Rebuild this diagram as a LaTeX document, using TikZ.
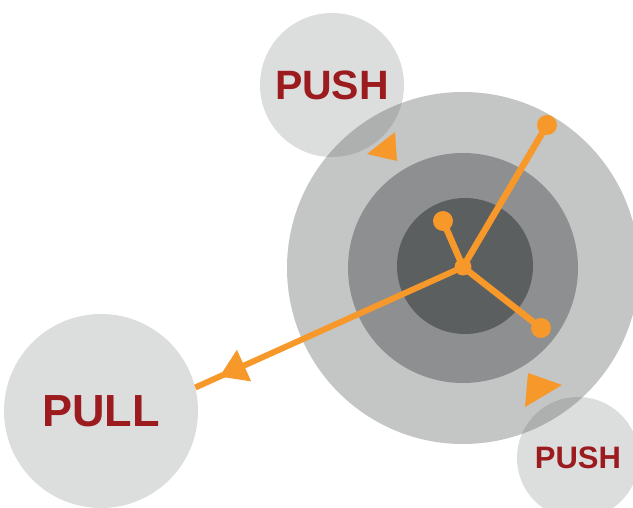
\documentclass[tikz,border=0pt]{standalone}
\usepackage{fontspec}
\setmainfont{Liberation Sans}
\usetikzlibrary{arrows.meta,decorations.markings}
\definecolor{pushRed}{HTML}{9B1B1F}
\definecolor{armOrange}{HTML}{F7982B}
\definecolor{ringOuter}{HTML}{C4C5C5}
\definecolor{ringMid}{HTML}{8E8F90}
\definecolor{ringCore}{HTML}{5B5F60}
\definecolor{veilGray}{HTML}{606464}

\begin{document}
\begin{tikzpicture}[x=1pt,y=-1pt,
  ring/.style={circle,inner sep=0pt,minimum size=#1,draw=none},
  bubble/.style={circle,inner sep=0pt,minimum size=#1,fill=veilGray,
    fill opacity=0.22,text opacity=1,text=pushRed},
  lettering/.style={font=\bfseries\fontsize{#1}{#1}\selectfont},
  arm/.style={line width=6.5pt,draw=armOrange},
  knob/.style={circle,fill=armOrange,inner sep=0pt,minimum size=#1},
]

\clip (0,0) rectangle (633,508);

% target rings
\node[ring=352pt,fill=ringOuter] (outer) at (463,268) {};
\node[ring=230pt,fill=ringMid] (middle) at (463,268) {};
\node[ring=136pt,fill=ringCore] (core) at (465,266) {};

% push / pull bubbles
\node[bubble=144pt,lettering=41] (pushTop) at (332,85) {PUSH};
\node[bubble=122pt,lettering=31] (pushBot) at (578,458) {PUSH};
\node[bubble=194pt,lettering=45] (pull) at (101,411) {PULL};

% arms
\node[knob=20pt] (tipNE) at (547,125) {};
\node[knob=20pt] (tipN) at (443,221) {};
\node[knob=20pt] (tipSE) at (541,328) {};
\node[knob=17pt] (hub) at (463,267) {};
\draw[arm] (hub.center) -- (tipNE.center);
\draw[arm] (hub.center) -- (tipN.center);
\draw[arm] (hub.center) -- (tipSE.center);
\draw[arm,line width=6pt,postaction={decorate},
  decoration={markings,mark=at position 0.91 with {\arrow{Triangle[length=27pt,width=33pt]}}}]
  (hub.center) -- (pull.14);

% loose arrowheads
\fill[armOrange] (395,132) -- (367,154) -- (397,161) -- cycle;
\fill[armOrange] (528,373) -- (562,385) -- (525,407) -- cycle;

\end{tikzpicture}
\end{document}
